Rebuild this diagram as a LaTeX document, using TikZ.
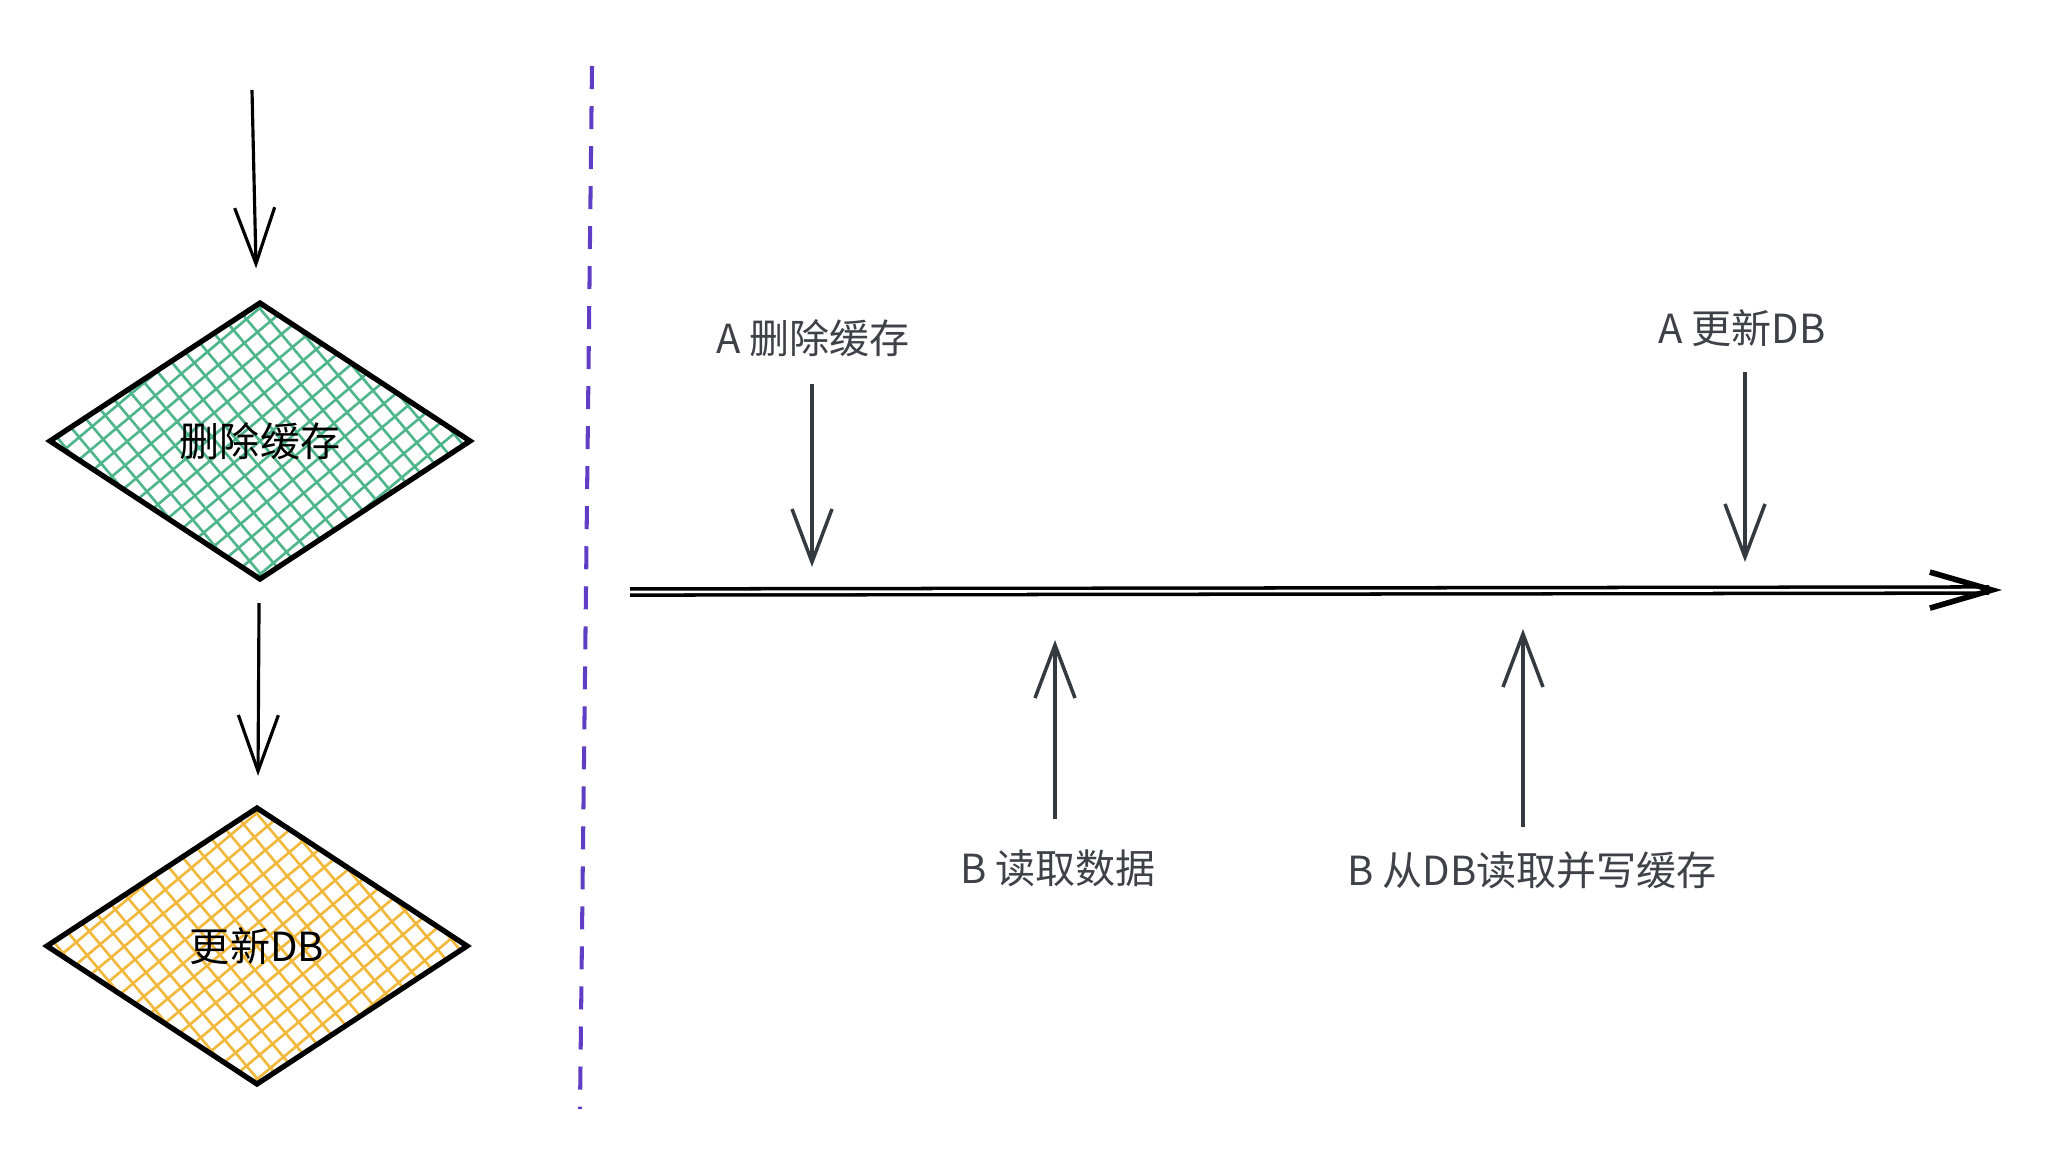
\documentclass[tikz,border=0pt]{standalone}
\usepackage{fontspec}
\setmainfont{Noto Sans CJK SC}
\usepackage{xcolor}
\usetikzlibrary{positioning, arrows.meta, shapes.geometric}

\definecolor{hatchgreen}{HTML}{4FB68C}
\definecolor{hatchyellow}{HTML}{F2B83C}
\definecolor{divpurple}{HTML}{5F3DC4}
\definecolor{evtgray}{HTML}{343A40}
\definecolor{labelgray}{HTML}{3E4248}

\tikzset{
  hatch/.style={path picture={
      \begin{scope}[shift={(path picture bounding box.center)}]
        \foreach \k in {-16,...,16} {
          \draw[#1, line width=0.75pt]
            ({(\k*1.7*cos(130)+30*cos(40))*1mm}, {(\k*1.7*sin(130)+30*sin(40))*1mm}) --
            ({(\k*1.7*cos(130)-30*cos(40))*1mm}, {(\k*1.7*sin(130)-30*sin(40))*1mm});
          \draw[#1, line width=0.75pt]
            ({(\k*1.7*cos(40)+30*cos(-50))*1mm}, {(\k*1.7*sin(40)+30*sin(-50))*1mm}) --
            ({(\k*1.7*cos(40)-30*cos(-50))*1mm}, {(\k*1.7*sin(40)-30*sin(-50))*1mm});
        }
      \end{scope}}},
  decision/.style={diamond, draw=black, line width=1.5pt, inner sep=0pt,
      minimum width=4.22cm, minimum height=2.78cm, font=\fontsize{11.4}{13}\selectfont},
  flow/.style={draw=black, line width=0.9pt, -{Straight Barb[length=5.6mm, width=4.0mm]}},
  event/.style={draw=evtgray, line width=1pt, -{Straight Barb[length=5.3mm, width=4.0mm]}},
  timeline/.style={draw=black, line width=1pt, double distance=0.75pt,
      -{Straight Barb[length=6.2mm, width=3.6mm, line width=1.6pt]}},
  divider/.style={draw=divpurple, line width=1.15pt, dash pattern=on 0.23cm off 0.17cm},
  tag/.style={text=labelgray, inner sep=0pt, font=\fontsize{11.4}{13}\selectfont}
}

\begin{document}
\begin{tikzpicture}[x=0.01cm, y=-0.01cm]
  \useasboundingbox (0,0) rectangle (2066,1148);

  % left flow
  \coordinate (start) at (252,90);
  \node[decision, hatch=hatchgreen] (del) at (260,441) {删除缓存};
  \node[decision, hatch=hatchyellow] (upd) at (257,946) {更新DB};
  \draw[flow, shorten >=0.33cm] (start) -- (del);
  \draw[flow, shorten <=0.21cm, shorten >=0.29cm] (del) -- (upd);

  % divider
  \draw[divider] (592,66) -- (580,1109);

  % timeline
  \coordinate (t0) at (630,592);
  \coordinate (t1) at (2002,590);
  \draw[timeline] (t0) -- (t1);

  \node[tag] (la) at (813,338) {A 删除缓存};
  \node[tag] (lu) at (1742,328) {A 更新DB};
  \node[tag] (lr) at (1058,868) {B 读取数据};
  \node[tag] (lw) at (1532,870) {B 从DB读取并写缓存};

  \coordinate (ta) at (812,592);
  \coordinate (tu) at (1745,590);
  \coordinate (tr) at (1055,592);
  \coordinate (tw) at (1523,590);

  \draw[event, shorten <=0.27cm, shorten >=0.25cm] (la.south -| ta) -- (ta);
  \draw[event, shorten <=0.25cm, shorten >=0.28cm] (lu.south -| tu) -- (tu);
  \draw[event, shorten <=0.30cm, shorten >=0.48cm] (lr.north -| tr) -- (tr);
  \draw[event, shorten <=0.24cm, shorten >=0.39cm] (lw.north -| tw) -- (tw);
\end{tikzpicture}
\end{document}
